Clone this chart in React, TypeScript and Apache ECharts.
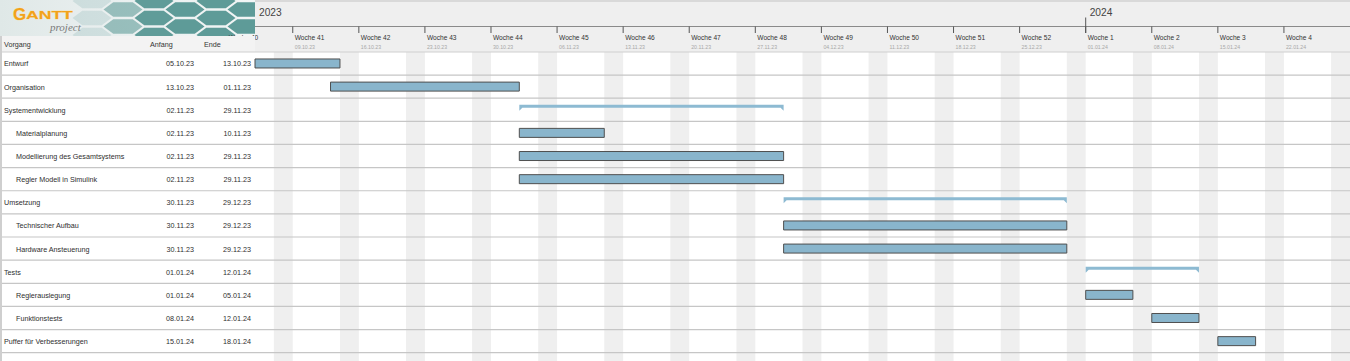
import React, { useEffect, useRef } from "react";
import * as echarts from "echarts";

const taskNames = [
  "Entwurf",
  "Organisation",
  "Systementwicklung",
  "Materialplanung",
  "Modellierung des Gesamtsystems",
  "Regler Modell in Simulink",
  "Umsetzung",
  "Technischer Aufbau",
  "Hardware Ansteuerung",
  "Tests",
  "Reglerauslegung",
  "Funktionstests",
  "Puffer für Verbesserungen",
];
const taskIndent = [0, 0, 0, 1, 1, 1, 0, 1, 1, 0, 1, 1, 0];
const taskIsSummary = [false, false, true, false, false, false, true, false, false, true, false, false, false];
const taskStart = [
  "05.10.23", "13.10.23", "02.11.23", "02.11.23", "02.11.23", "02.11.23",
  "30.11.23", "30.11.23", "30.11.23", "01.01.24", "01.01.24", "08.01.24", "15.01.24",
];
const taskEnd = [
  "13.10.23", "01.11.23", "29.11.23", "10.11.23", "29.11.23", "29.11.23",
  "29.12.23", "29.12.23", "29.12.23", "12.01.24", "05.01.24", "12.01.24", "18.01.24",
];

const weekLabels = [
  "Woche 40", "Woche 41", "Woche 42", "Woche 43", "Woche 44", "Woche 45", "Woche 46",
  "Woche 47", "Woche 48", "Woche 49", "Woche 50", "Woche 51", "Woche 52",
  "Woche 1", "Woche 2", "Woche 3", "Woche 4",
];
const weekStarts = [
  "02.10.23", "09.10.23", "16.10.23", "23.10.23", "30.10.23", "06.11.23", "13.11.23",
  "20.11.23", "27.11.23", "04.12.23", "11.12.23", "18.12.23", "25.12.23",
  "01.01.24", "08.01.24", "15.01.24", "22.01.24",
];
const yearLabels = ["2023", "2024"];
const yearStarts = ["01.01.23", "01.01.24"];
const weekendStarts = [
  "07.10.23", "14.10.23", "21.10.23", "28.10.23", "04.11.23", "11.11.23", "18.11.23",
  "25.11.23", "02.12.23", "09.12.23", "16.12.23", "23.12.23", "30.12.23",
  "06.01.24", "13.01.24", "20.01.24", "27.01.24",
];
const axisStart = "05.10.23";
const axisEnd = "29.01.24";

const DAY = 86400000;
const FONT = '"Liberation Sans", Arial, sans-serif';

function parseDate(s: string): number {
  const [d, m, y] = s.split(".").map(Number);
  return Date.UTC(2000 + y, m - 1, d);
}

function flatHex(cx: number, cy: number, rx: number, ry: number): number[][] {
  return [
    [cx - rx, cy], [cx - rx / 2, cy - ry], [cx + rx / 2, cy - ry],
    [cx + rx, cy], [cx + rx / 2, cy + ry], [cx - rx / 2, cy + ry],
  ];
}

export default function App() {
  const ref = useRef<HTMLDivElement>(null);

  useEffect(() => {
    if (!ref.current) return;
    const chart = echarts.init(ref.current, undefined, { renderer: "svg" });
    const GRID_LEFT = 255;
    const GRID_TOP = 51.9;

    // decorative logo honeycomb
    const hexes: any[] = [];
    for (let c = 0; c < 7; c++) {
      const cx = 92 + c * 31;
      for (let r = -1; r < 3; r++) {
        const cy = r * 17 + (c % 2) * 8.5 + 1;
        const t = Math.max(0, Math.min(1, (cx - 85) / 70));
        const op = 0.1 + 0.9 * t;
        hexes.push({
          type: "polygon",
          z: 0,
          shape: { points: flatHex(cx, cy, 19.5, 7.3) },
          style: { fill: "#5e9b98", opacity: op },
        });
      }
    }

    const option: any = {
      animation: false,
      grid: { left: GRID_LEFT, right: 0, top: GRID_TOP, bottom: 8.3 },
      xAxis: {
        type: "time",
        min: parseDate(axisStart),
        max: parseDate(axisEnd),
        show: false,
      },
      yAxis: { type: "category", data: taskNames, inverse: true, show: false },
      graphic: [
        {
          type: "rect", z: 0,
          shape: { x: 0, y: 0, width: 256, height: 36 },
          style: {
            fill: new echarts.graphic.LinearGradient(0, 0, 1, 0, [
              { offset: 0, color: "#dfe8e7" },
              { offset: 0.35, color: "#e8eeee" },
              { offset: 1, color: "#f2f6f6" },
            ]),
          },
        },
        ...hexes,
        {
          type: "text", z: 1,
          style: {
            x: 13, y: 14.5, text: "G", fill: "#f2a21a",
            font: 'bold 17px "Liberation Sans", Arial, sans-serif',
            verticalAlign: "middle", stroke: "#fbd98a", lineWidth: 0.6,
          },
        },
        {
          type: "text", z: 1, x: 26, y: 15.5, scaleX: 1.6,
          style: {
            x: 0, y: 0, text: "ANTT", fill: "#f2a21a",
            font: 'bold 11px "Liberation Sans", Arial, sans-serif',
            verticalAlign: "middle", stroke: "#fbd98a", lineWidth: 0.4,
          },
        },
        {
          type: "text", z: 1,
          style: {
            x: 50, y: 26.5, text: "project", fill: "#7a7a7a",
            font: 'italic 11px "Liberation Serif", serif',
            verticalAlign: "middle",
          },
        },
        // timeline header background
        {
          type: "rect", z: 1,
          shape: { x: GRID_LEFT, y: 0, width: 1350 - GRID_LEFT, height: GRID_TOP },
          style: { fill: "#efefef" },
        },
        {
          type: "rect", z: 1,
          shape: { x: GRID_LEFT, y: 0, width: 1350 - GRID_LEFT, height: 2 },
          style: { fill: "#d9d9d9" },
        },
        {
          type: "line", z: 1,
          shape: { x1: GRID_LEFT, y1: 26.5, x2: 1350, y2: 26.5 },
          style: { stroke: "#8a8a8a", lineWidth: 1 },
        },
        // table header row
        {
          type: "rect", z: 8,
          shape: { x: 0, y: 36, width: GRID_LEFT, height: GRID_TOP - 36 },
          style: { fill: "#f3f3f3" },
        },
        {
          type: "text", z: 9,
          style: { x: 4, y: 44, text: "Vorgang", fill: "#333", font: "7.2px " + FONT, verticalAlign: "middle" },
        },
        {
          type: "text", z: 9,
          style: { x: 150, y: 44, text: "Anfang", fill: "#333", font: "7.2px " + FONT, verticalAlign: "middle" },
        },
        {
          type: "text", z: 9,
          style: { x: 204, y: 44, text: "Ende", fill: "#333", font: "7.2px " + FONT, verticalAlign: "middle" },
        },
        {
          type: "line", z: 9,
          shape: { x1: 0, y1: 52, x2: 1350, y2: 52 },
          style: { stroke: "#cfcfcf", lineWidth: 1 },
        },
        {
          type: "rect", z: 9,
          shape: { x: 0, y: 36, width: 2, height: 325 },
          style: { fill: "#cfcfcf" },
        },
      ],
      series: [
        {
          name: "weekends",
          type: "custom",
          z: 2,
          silent: true,
          clip: false,
          encode: { x: 0, y: 1 },
          data: weekendStarts.map((s) => [parseDate(s), 0]),
          renderItem: (params: any, api: any) => {
            const t = api.value(0);
            const x0 = api.coord([t, 0])[0];
            const x1 = api.coord([t + 2 * DAY, 0])[0];
            return {
              type: "rect",
              shape: { x: x0, y: GRID_TOP, width: x1 - x0, height: 361 - GRID_TOP },
              style: { fill: "#efefef" },
            };
          },
        },
        {
          name: "table",
          type: "custom",
          z: 3,
          silent: true,
          clip: false,
          encode: { x: 0, y: 1 },
          data: taskNames.map((_, i) => [parseDate(axisStart), i]),
          renderItem: (params: any, api: any) => {
            const i = params.dataIndex;
            const cy = api.coord([api.value(0), i])[1] + 0.5;
            const h = api.size([0, 1])[1];
            return {
              type: "group",
              children: [
                {
                  type: "line",
                  shape: { x1: 0, y1: cy - 0.5 + h / 2, x2: 1350, y2: cy - 0.5 + h / 2 },
                  style: { stroke: "#c6c6c6", lineWidth: 1.2 },
                },
                {
                  type: "text",
                  style: {
                    x: 4 + taskIndent[i] * 12, y: cy, text: taskNames[i], fill: "#2e2e2e",
                    font: "7.2px " + FONT, verticalAlign: "middle", align: "left",
                  },
                },
                {
                  type: "text",
                  style: {
                    x: 194, y: cy, text: taskStart[i], fill: "#2e2e2e",
                    font: "7.2px " + FONT, verticalAlign: "middle", align: "right",
                  },
                },
                {
                  type: "text",
                  style: {
                    x: 251, y: cy, text: taskEnd[i], fill: "#2e2e2e",
                    font: "7.2px " + FONT, verticalAlign: "middle", align: "right",
                  },
                },
              ],
            };
          },
        },
        {
          name: "weeks",
          type: "custom",
          z: 3,
          silent: true,
          clip: false,
          encode: { x: 0, y: 1 },
          data: weekStarts.map((s) => [parseDate(s), 0]),
          renderItem: (params: any, api: any) => {
            const i = params.dataIndex;
            const x = api.coord([api.value(0), 0])[0];
            const children: any[] = [
              {
                type: "text",
                style: {
                  x: x + 2, y: 37.5, text: weekLabels[i], fill: "#333",
                  font: "6.6px " + FONT, verticalAlign: "middle",
                },
              },
              {
                type: "text",
                style: {
                  x: x + 2, y: 46.5, text: weekStarts[i], fill: "#a8a8a8",
                  font: "5.2px " + FONT, verticalAlign: "middle",
                },
              },
            ];
            if (x >= GRID_LEFT) {
              children.push({
                type: "line",
                shape: { x1: x, y1: 26.5, x2: x, y2: 33 },
                style: { stroke: "#555", lineWidth: 1 },
              });
            }
            return { type: "group", children };
          },
        },
        {
          name: "years",
          type: "custom",
          z: 3,
          silent: true,
          clip: false,
          encode: { x: 0, y: 1 },
          data: yearStarts.map((s) => [parseDate(s), 0]),
          renderItem: (params: any, api: any) => {
            const i = params.dataIndex;
            const xr = api.coord([api.value(0), 0])[0];
            const inside = xr >= GRID_LEFT;
            const x = inside ? xr : GRID_LEFT;
            const children: any[] = [
              {
                type: "text",
                style: {
                  x: x + 4, y: 12.5, text: yearLabels[i], fill: "#444",
                  font: "10.2px " + FONT, verticalAlign: "middle",
                },
              },
            ];
            if (inside) {
              children.push({
                type: "line",
                shape: { x1: x, y1: 17.5, x2: x, y2: 33 },
                style: { stroke: "#555", lineWidth: 1 },
              });
            }
            return { type: "group", children };
          },
        },
        {
          name: "tasks",
          type: "custom",
          z: 4,
          clip: false,
          encode: { x: [0, 2], y: 1 },
          data: taskNames.map((_, i) => [parseDate(taskStart[i]), i, parseDate(taskEnd[i]) + DAY]),
          renderItem: (params: any, api: any) => {
            const i = api.value(1);
            const p0 = api.coord([api.value(0), i]);
            const p1 = api.coord([api.value(2), i]);
            const x0 = p0[0];
            const x1 = p1[0];
            const cy = p0[1];
            if (taskIsSummary[params.dataIndex]) {
              const top = cy - 5;
              return {
                type: "polygon",
                shape: {
                  points: [
                    [x0, top], [x1, top], [x1, top + 6], [x1 - 3, top + 3],
                    [x0 + 3, top + 3], [x0, top + 6],
                  ],
                },
                style: { fill: "#8dbad2" },
              };
            }
            return {
              type: "rect",
              shape: { x: x0, y: cy - 4.5, width: x1 - x0, height: 9 },
              style: { fill: "#89b5cc", stroke: "#4f4f4f", lineWidth: 1 },
            };
          },
        },
      ],
    };

    chart.setOption(option);
    return () => chart.dispose();
  }, []);

  return (
    <div
      ref={ref}
      style={{ position: "absolute", left: 0, top: 0, width: 1350, height: 361, background: "#fff" }}
    />
  );
}
